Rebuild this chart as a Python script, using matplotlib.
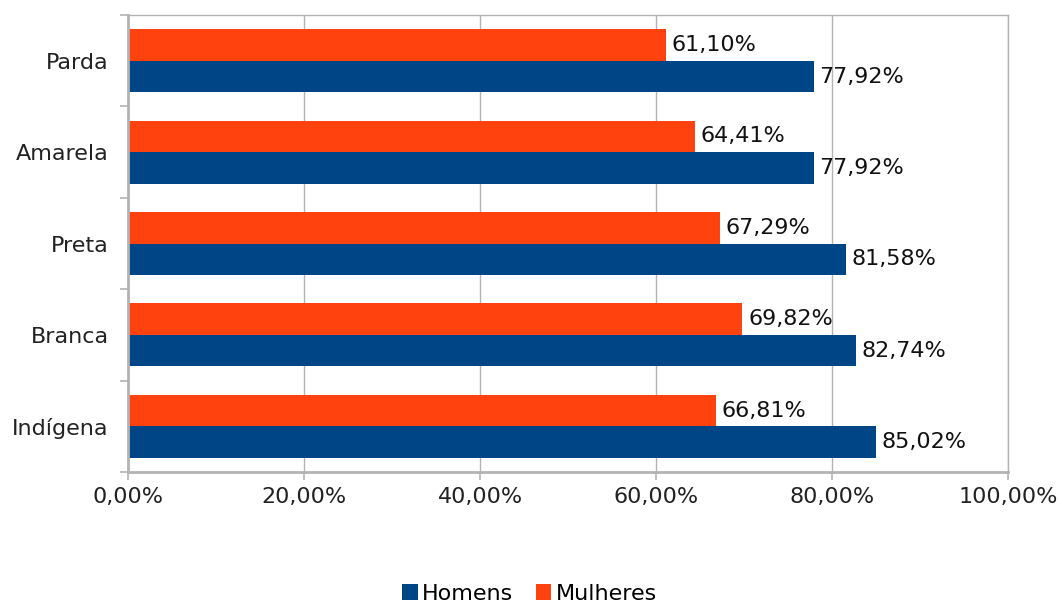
import numpy as np
import matplotlib.pyplot as plt
from matplotlib.ticker import FuncFormatter, MultipleLocator

categorias = ['Indígena', 'Branca', 'Preta', 'Amarela', 'Parda']
homens = [85.02, 82.74, 81.58, 77.92, 77.92]
mulheres = [66.81, 69.82, 67.29, 64.41, 61.10]

azul = '#004586'
laranja = '#FF420E'
cinza = '#b3b3b3'

plt.rcParams['font.family'] = ['DejaVu Sans']

fig = plt.figure(figsize=(10.59, 6.02), dpi=100)
ax = fig.add_axes([0.1209, 0.2159, 0.831, 0.759])

y = np.arange(len(categorias))
h = 0.345
b_h = ax.barh(y - h / 2, homens, height=h, color=azul, label='Homens')
b_m = ax.barh(y + h / 2, mulheres, height=h, color=laranja, label='Mulheres')


def fmt(v):
    return f'{v:.2f}'.replace('.', ',') + '%'


for barras, vals in ((b_h, homens), (b_m, mulheres)):
    for rect, v in zip(barras, vals):
        ax.annotate(fmt(v), (v, rect.get_y() + rect.get_height() / 2),
                    xytext=(4, 0), textcoords='offset points',
                    va='center', ha='left', fontsize=16, color='#111111')

ax.set_xlim(0, 100)
ax.set_ylim(-0.5, len(categorias) - 0.5)
ax.xaxis.set_major_locator(MultipleLocator(20))
ax.xaxis.set_major_formatter(FuncFormatter(lambda v, p: fmt(v)))
ax.set_yticks(y)
ax.set_yticklabels(categorias)
ax.set_yticks(np.arange(-0.5, len(categorias)), minor=True)
ax.tick_params(axis='y', which='major', length=0, pad=14, labelsize=16)
ax.tick_params(axis='y', which='minor', length=6, color=cinza, width=1.2)
ax.tick_params(axis='x', length=6, color=cinza, width=1.2, pad=5, labelsize=16,
               labelcolor='#222222')
ax.tick_params(axis='y', labelcolor='#222222')

ax.grid(axis='x', color=cinza, linewidth=1)
ax.set_axisbelow(True)
for nome, sp in ax.spines.items():
    sp.set_color(cinza)
    sp.set_linewidth(1.0 if nome in ('top', 'right') else 2)

fig.legend(handles=[b_h, b_m], loc='center', bbox_to_anchor=(0.5, 1 - 594 / 602),
           ncol=2, frameon=False, fontsize=16, handlelength=0.7, handleheight=0.7,
           handletextpad=0.2, columnspacing=1.0)

fig.savefig('out.png', dpi=100)
